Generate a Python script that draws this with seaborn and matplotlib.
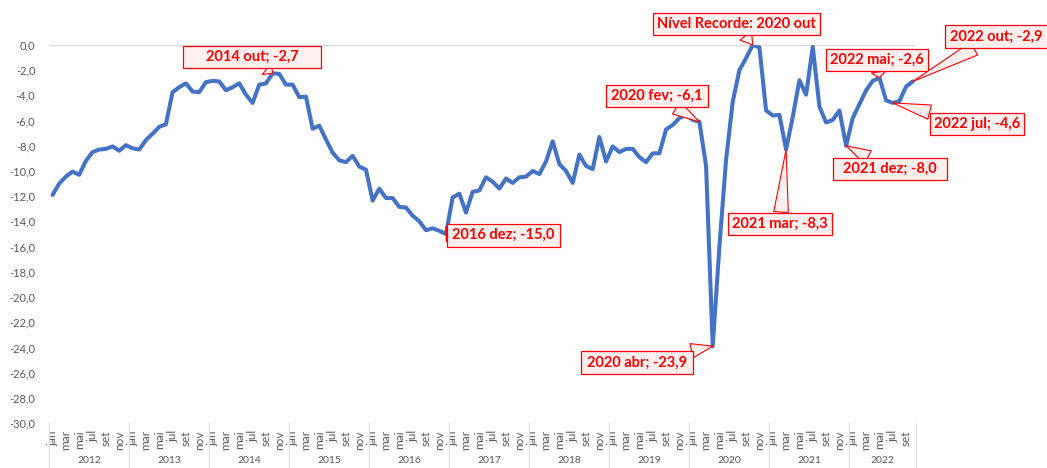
import numpy as np
import pandas as pd
import seaborn as sns
import matplotlib.pyplot as plt
from matplotlib.path import Path
from matplotlib.transforms import blended_transform_factory

# valores mensais (jan/2012 a out/2022)
v2012 = [-11.9, -11.0, -10.45, -10.05, -10.3, -9.2, -8.5, -8.3, -8.25, -8.05, -8.4, -7.95]
v2013 = [-8.2, -8.3, -7.55, -7.05, -6.5, -6.3, -3.75, -3.35, -3.05, -3.7, -3.75, -2.95]
v2014 = [-2.85, -2.9, -3.6, -3.35, -3.05, -3.95, -4.6, -3.15, -3.05, -2.25, -2.3, -3.15]
v2015 = [-3.15, -4.15, -4.1, -6.65, -6.4, -7.5, -8.55, -9.15, -9.3, -8.8, -9.65, -9.9]
v2016 = [-12.35, -11.4, -12.15, -12.15, -12.85, -12.9, -13.55, -14.0, -14.7, -14.55, -14.75, -15.0]
v2017 = [-12.1, -11.8, -13.3, -11.65, -11.55, -10.5, -10.85, -11.4, -10.6, -10.95, -10.5, -10.45]
v2018 = [-10.0, -10.25, -9.25, -7.65, -9.45, -10.0, -10.95, -8.7, -9.6, -9.85, -7.3, -9.25]
v2019 = [-8.05, -8.5, -8.25, -8.25, -8.9, -9.3, -8.6, -8.6, -6.7, -6.35, -5.8, -5.55]
v2020 = [-5.95, -6.1, -9.6, -23.9, -16.0, -9.1, -4.5, -2.0, -1.05, 0.0, -0.2, -5.2]
v2021 = [-5.6, -5.55, -8.3, -5.7, -2.8, -3.95, -0.15, -4.9, -6.15, -5.95, -5.2, -8.0]
v2022 = [-5.8, -4.7, -3.6, -2.85, -2.6, -4.4, -4.6, -4.45, -3.3, -2.9]

anos = list(range(2012, 2023))
meses = ["jan", "fev", "mar", "abr", "mai", "jun", "jul", "ago", "set", "out", "nov", "dez"]

valores = v2012 + v2013 + v2014 + v2015 + v2016 + v2017 + v2018 + v2019 + v2020 + v2021 + v2022
rotulos_mes = [meses[i % 12] for i in range(len(valores))]
df = pd.DataFrame({"idx": np.arange(len(valores)), "valor": valores, "mes": rotulos_mes})

# destaques: texto e mes (indice) apontado
dest_txt = ["2014 out; -2,7", "2016 dez; -15,0", "2020 fev; -6,1", "Nível Recorde: 2020 out",
            "2020 abr; -23,9", "2021 mar; -8,3", "2022 mai; -2,6", "2022 out; -2,9",
            "2022 jul; -4,6", "2021 dez; -8,0"]
dest_idx = [33, 59, 97, 105, 99, 110, 124, 129, 126, 119]
# posicao das caixas (x em meses, y no eixo) e folga horizontal
dest_pos = [(29.9, -0.95), (67.6, -15.1), (90.6, -4.05), (102.6, 1.67), (87.6, -25.2),
            (109.1, -14.2), (123.6, -1.2), (141.5, 0.65), (138.6, -6.27), (125.6, -9.85)]
dest_folga = [1.55, 0.35, 0.35, 0.3, 0.4, 0.3, 0.3, 0.35, 0.25, 0.7]


def caixa(hpad, vpad=0.3):
    def f(x0, y0, width, height, mutation_size):
        px, py = hpad * mutation_size, vpad * mutation_size
        x1, y1 = x0 + width + px, y0 + height + py
        xa, ya = x0 - px, y0 - py
        return Path([(xa, ya), (x1, ya), (x1, y1), (xa, y1), (xa, ya)], closed=True)
    return f


sns.set_style("white")
plt.rcParams["font.family"] = ["Lato", "DejaVu Sans"]

fig, ax = plt.subplots(figsize=(10.47, 4.68), dpi=100)
fig.subplots_adjust(left=0.047, right=0.875, top=0.904, bottom=0.096)

ax.axhline(0, color="#D9D9D9", lw=0.9, zorder=0)
sns.lineplot(data=df, x="idx", y="valor", color="#4472C4", lw=2.9, ax=ax)

ax.set_xlim(-0.5, len(valores) - 0.5)
ax.set_ylim(-30, 0)
yt = np.arange(-30, 1, 2)
ax.set_yticks(yt)
ax.set_yticklabels([f"{v:.1f}".replace(".", ",") for v in yt])
ax.set_xticks(df["idx"][::2])
ax.set_xticklabels(df["mes"][::2])
ax.tick_params(axis="y", length=0, pad=10, labelsize=8, labelcolor="#595959")
ax.tick_params(axis="x", length=0, pad=5, labelsize=8.5, labelcolor="#595959", labelrotation=90)
ax.set_xlabel("")
ax.set_ylabel("")
for s in ax.spines.values():
    s.set_visible(False)

# agrupamento por ano
tr = blended_transform_factory(ax.transData, ax.transAxes)
for k, ano in enumerate(anos):
    ini = 12 * k - 0.5
    fim = min(12 * k + 11.5, len(valores) - 0.5)
    ax.plot([ini, ini], [0, -0.15], color="#D9D9D9", lw=0.8, transform=tr, clip_on=False)
    ax.text((ini + fim) / 2, -0.088, str(ano), transform=tr, ha="center", va="top",
            fontsize=7.5, color="#595959")
ax.plot([len(valores) - 0.5] * 2, [0, -0.15], color="#D9D9D9", lw=0.8, transform=tr, clip_on=False)

for txt, i, pos, hp in zip(dest_txt, dest_idx, dest_pos, dest_folga):
    ax.annotate(txt, xy=(i, valores[i]), xytext=pos, ha="center", va="center",
                fontsize=10.5, fontweight="bold", color="#FF0000", annotation_clip=False,
                bbox=dict(boxstyle=caixa(hp), fc="#FFF0F0", ec="#FF0000", lw=0.9),
                arrowprops=dict(arrowstyle="wedge,tail_width=1.0,shrink_factor=0.5",
                                fc="#FFF0F0", ec="#FF0000", lw=0.8, shrinkA=0, shrinkB=0))

fig.savefig("out.png", dpi=100)
